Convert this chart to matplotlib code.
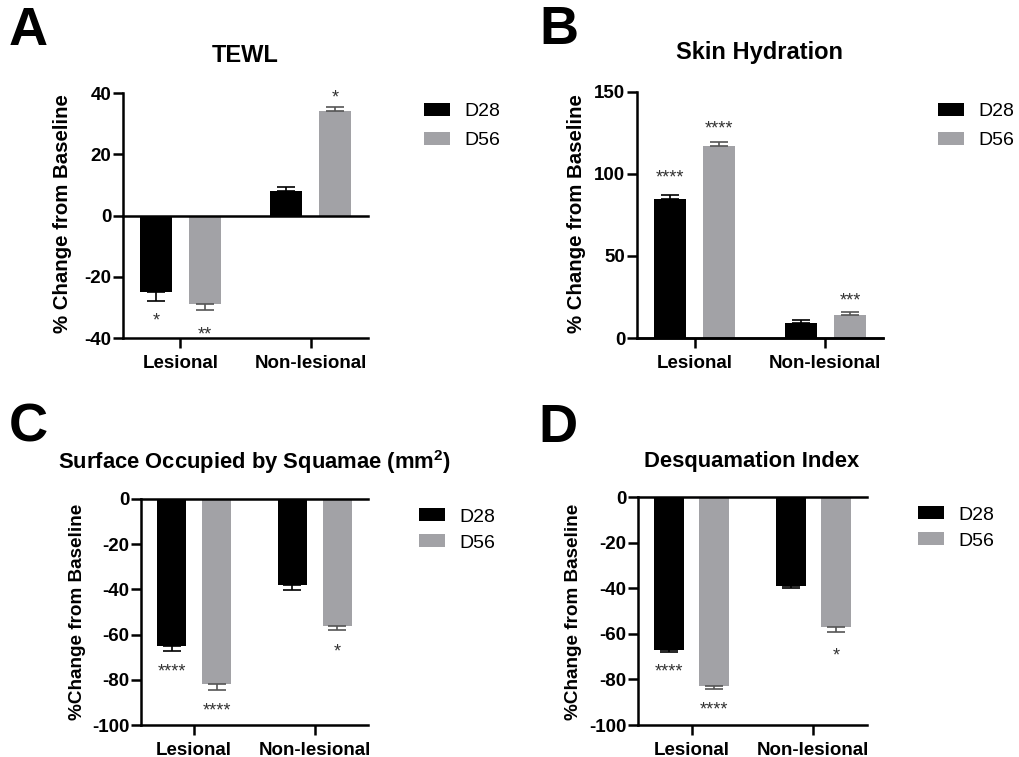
import numpy as np
import matplotlib
matplotlib.use("Agg")
import matplotlib.pyplot as plt
from matplotlib.patches import Patch

plt.rcParams['font.family'] = ['Liberation Sans', 'DejaVu Sans']
plt.rcParams['mathtext.fontset'] = 'custom'
plt.rcParams['mathtext.rm'] = 'Liberation Sans'
plt.rcParams['mathtext.bf'] = 'Liberation Sans:bold'
plt.rcParams['axes.unicode_minus'] = False

# === DATA ===
groups = ['Lesional', 'Non-lesional']
series = ['D28', 'D56']

tewl_d28 = [-25, 8]
tewl_d56 = [-29, 34]
tewl_err_d28 = [3, 1.3]
tewl_err_d56 = [2, 1.5]
tewl_sig_d28 = ['*', '']
tewl_sig_d56 = ['**', '*']
tewl_sig_y_d28 = [-32.6, 0]
tewl_sig_y_d56 = [-37, 40.3]

hyd_d28 = [85, 9]
hyd_d56 = [117, 14]
hyd_err_d28 = [2.5, 2]
hyd_err_d56 = [2.8, 1.6]
hyd_sig_d28 = ['****', '']
hyd_sig_d56 = ['****', '***']
hyd_sig_y_d28 = [101, 0]
hyd_sig_y_d56 = [131, 26]

sq_d28 = [-65, -38]
sq_d56 = [-82, -56]
sq_err_d28 = [2.2, 2.2]
sq_err_d56 = [2.3, 1.8]
sq_sig_d28 = ['****', '']
sq_sig_d56 = ['****', '*']
sq_sig_y_d28 = [-74, 0]
sq_sig_y_d56 = [-91, -65]

dq_d28 = [-67, -39]
dq_d56 = [-83, -57]
dq_err_d28 = [1.0, 1.0]
dq_err_d56 = [1.0, 2.2]
dq_sig_d28 = ['****', '']
dq_sig_d56 = ['****', '*']
dq_sig_y_d28 = [-74, 0]
dq_sig_y_d56 = [-91, -67]

BLACK = '#000000'
GRAY = '#a2a2a6'
W, H = 1019, 757


def px(x, y):
    return x / W, 1 - y / H


def rect(l, t, r, b):
    return [l / W, 1 - b / H, (r - l) / W, (b - t) / H]


def panel(fig, box, d28, d56, e28, e56, s28, s56, sy28, sy56, ylim, yticks):
    ax = fig.add_axes(box)
    x = np.arange(len(groups))
    bw, off = 0.245, 0.187
    for vals, errs, col, ecol, sgn, sgy, dx in [
        (d28, e28, BLACK, BLACK, s28, sy28, -off),
        (d56, e56, GRAY, '#555555', s56, sy56, off),
    ]:
        vals = np.array(vals)
        errs = np.array(errs)
        lower = np.where(vals < 0, errs, 0)
        upper = np.where(vals >= 0, errs, 0)
        ax.bar(x + dx, vals, bw, color=col, zorder=2)
        ax.errorbar(x + dx, vals, yerr=[lower, upper], fmt='none', ecolor=ecol,
                    elinewidth=1.2, capsize=6.5, capthick=1.2, zorder=3)
        for xi, s, yy in zip(x + dx, sgn, sgy):
            if s:
                ax.annotate(s, (xi, yy), xytext=(0, -7.5), textcoords='offset points',
                            ha='center', va='baseline', fontsize=13, color='#333333',
                            annotation_clip=False)
    ax.set_xlim(-0.44, 1.44)
    ax.set_ylim(*ylim)
    ax.set_yticks(yticks)
    ax.set_xticks(x)
    ax.set_xticklabels(groups, fontweight='bold', fontsize=13.5)
    for lab in ax.get_yticklabels():
        lab.set_fontweight('bold')
        lab.set_fontsize(13.5)
    ax.axhline(0, color='black', lw=1.8, zorder=4, clip_on=False)
    for sp in ['top', 'right']:
        ax.spines[sp].set_visible(False)
    for sp in ['left', 'bottom']:
        ax.spines[sp].set_linewidth(1.8)
    ax.tick_params(axis='both', width=1.8, length=7, pad=1.5)
    ax.tick_params(axis='x', pad=5)
    return ax


fig = plt.figure(figsize=(W / 100, H / 100), dpi=100)

panel(fig, rect(123, 93, 368, 338), tewl_d28, tewl_d56, tewl_err_d28, tewl_err_d56,
      tewl_sig_d28, tewl_sig_d56, tewl_sig_y_d28, tewl_sig_y_d56, (-40, 40), [-40, -20, 0, 20, 40])
panel(fig, rect(637, 92, 883, 338), hyd_d28, hyd_d56, hyd_err_d28, hyd_err_d56,
      hyd_sig_d28, hyd_sig_d56, hyd_sig_y_d28, hyd_sig_y_d56, (0, 150), [0, 50, 100, 150])
panel(fig, rect(141, 499, 368, 725), sq_d28, sq_d56, sq_err_d28, sq_err_d56,
      sq_sig_d28, sq_sig_d56, sq_sig_y_d28, sq_sig_y_d56, (-100, 0), [-100, -80, -60, -40, -20, 0])
panel(fig, rect(638, 497, 867, 725), dq_d28, dq_d56, dq_err_d28, dq_err_d56,
      dq_sig_d28, dq_sig_d56, dq_sig_y_d28, dq_sig_y_d56, (-100, 0), [-100, -80, -60, -40, -20, 0])

# titles
fig.text(*px(245, 55), 'TEWL', ha='center', va='center', fontsize=17, fontweight='bold')
fig.text(*px(760, 53), 'Skin Hydration', ha='center', va='center', fontsize=17, fontweight='bold')
fig.text(*px(254, 462), r'Surface Occupied by Squamae (mm$\mathbf{^2}$)', ha='center', va='center',
         fontsize=15.8, fontweight='bold')
fig.text(*px(752, 461), 'Desquamation Index', ha='center', va='center', fontsize=15.8, fontweight='bold')

# panel letters
for letter, (lx, ly) in zip('ABCD', [(28, 31), (559, 30), (28, 427), (558, 428)]):
    fig.text(*px(lx, ly), letter, ha='center', va='center', fontsize=39, fontweight='bold')

# y labels
fig.text(*px(63, 214), '% Change from Baseline', rotation=90, ha='center', va='center',
         fontsize=14.7, fontweight='bold')
fig.text(*px(577, 214), '% Change from Baseline', rotation=90, ha='center', va='center',
         fontsize=14.7, fontweight='bold')
fig.text(*px(77, 612), '%Change from Baseline', rotation=90, ha='center', va='center',
         fontsize=13.6, fontweight='bold')
fig.text(*px(573, 612), '%Change from Baseline', rotation=90, ha='center', va='center',
         fontsize=13.6, fontweight='bold')

# legends
handles = [Patch(facecolor=BLACK, label=series[0]), Patch(facecolor=GRAY, label=series[1])]
for (lx, ly), spacing in [((424, 126), 0.6), ((938, 126), 0.6), ((419, 530), 0.45), ((918, 528), 0.45)]:
    fig.legend(handles=handles, loc='center left', bbox_to_anchor=px(lx, ly),
               bbox_transform=fig.transFigure, frameon=False, fontsize=14,
               handlelength=1.35, handleheight=0.65, handletextpad=0.75,
               labelspacing=spacing, borderpad=0, borderaxespad=0)

fig.savefig('out.png', dpi=100, facecolor='white')
